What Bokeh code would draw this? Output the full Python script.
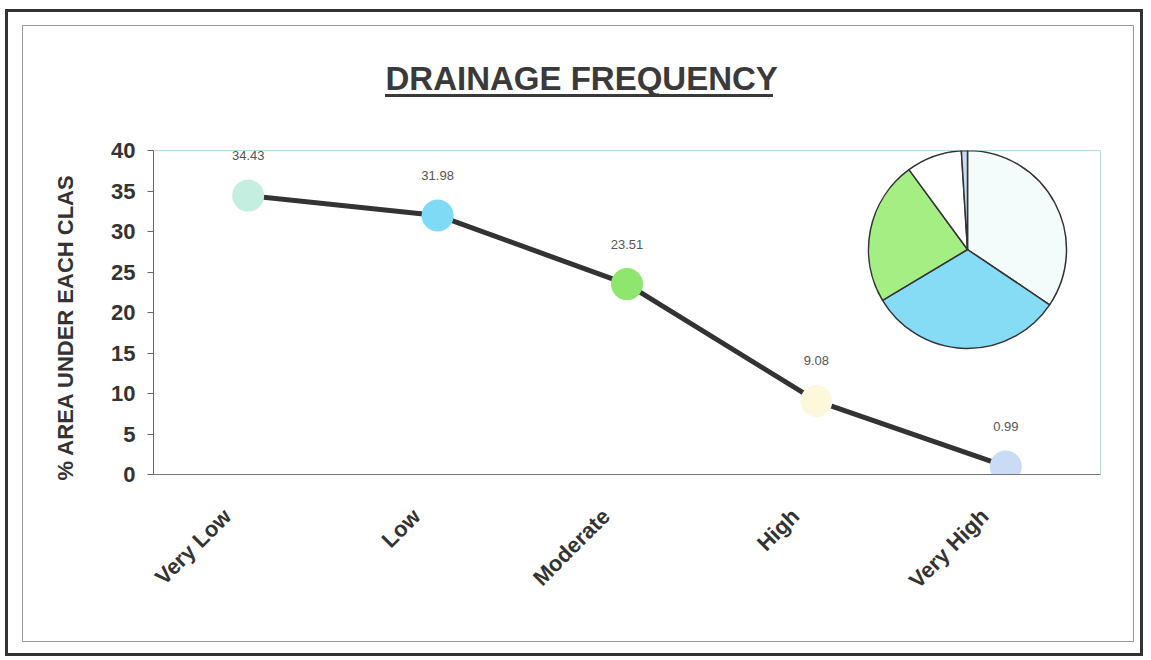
import math
from bokeh.plotting import figure
from bokeh.models import Range1d, ColumnDataSource, LabelSet, FixedTicker, Title
from bokeh.embed import file_html
from bokeh.resources import INLINE
from bokeh.core.properties import value

# ---- data ----
categories = ["Very Low", "Low", "Moderate", "High", "Very High"]
values = [34.43, 31.98, 23.51, 9.08, 0.99]
value_labels = ["34.43", "31.98", "23.51", "9.08", "0.99"]
marker_colors = ["#c4eedf", "#7fdaf6", "#8fe66e", "#fdf8dc", "#c9dbf5"]
pie_colors = ["#f3fbfb", "#86dcf4", "#a4ee84", "#ffffff", "#c9dbf5"]
y_ticks = [0, 5, 10, 15, 20, 25, 30, 35, 40]
title_text = "DRAINAGE FREQUENCY"
y_title = "% AREA UNDER EACH CLAS"

# ---- layout constants ----
W, H = 1151, 660
FL, FR, FT, FB = 153, 1100, 150, 474
FONT = "Liberation Sans"
n = len(categories)
step = (FR - FL) / n
LABEL_SHIFT = 21  # px: rotated labels end just left of their category

xpos = [i + 0.5 for i in range(n)]

p = figure(width=W, height=H, x_range=Range1d(0, n), y_range=Range1d(0, 40),
           output_backend="svg", toolbar_location=None,
           min_border_left=FL, min_border_right=W - FR,
           min_border_top=FT, min_border_bottom=H - FB,
           background_fill_color="white", border_fill_color=None)
p.extra_x_ranges = {"px": Range1d(FL, FR)}
p.extra_y_ranges = {"py": Range1d(H - FB, H - FT)}

p.xgrid.visible = False
p.ygrid.visible = False
p.outline_line_color = "#b9dede"
p.outline_line_width = 1

# y axis
p.yaxis.ticker = FixedTicker(ticks=y_ticks)
p.yaxis.major_label_text_font = FONT
p.yaxis.major_label_text_font_style = "bold"
p.yaxis.major_label_text_font_size = "22px"
p.yaxis.major_label_text_color = "#333333"
p.yaxis.major_tick_out = 6
p.yaxis.major_tick_in = 0
p.yaxis.minor_tick_line_color = None
p.yaxis.major_label_standoff = 12
p.yaxis.axis_line_color = "#666666"
p.yaxis.major_tick_line_color = "#666666"

# x axis: rotated category labels
label_ticks, overrides = [], {}
for x, cat in zip(xpos, categories):
    t = round(x - LABEL_SHIFT / step, 4)
    label_ticks.append(t)
    overrides[t] = cat
p.xaxis.ticker = FixedTicker(ticks=label_ticks)
p.xaxis.major_label_overrides = overrides
p.xaxis.major_label_orientation = math.pi / 4
p.xaxis.major_label_text_font = FONT
p.xaxis.major_label_text_font_style = "bold"
p.xaxis.major_label_text_font_size = "22px"
p.xaxis.major_label_text_color = "#333333"
p.xaxis.major_tick_line_color = None
p.xaxis.minor_tick_line_color = None
p.xaxis.axis_line_color = "#777777"
p.xaxis.major_label_standoff = 32

src = ColumnDataSource(dict(x=xpos, val=values, lab=value_labels, color=marker_colors))
p.line(x="x", y="val", source=src, line_color="#333333", line_width=5)
p.scatter(x="x", y="val", source=src, size=32, fill_color="color", line_color=None)
p.add_layout(LabelSet(x="x", y="val", text="lab", source=src, y_offset=40,
                      text_align="center", text_baseline="middle",
                      text_font=value(FONT), text_font_size="13px", text_color="#555555"))

# pie chart inset (angles from the data, clockwise from 12 o'clock)
total = sum(values)
starts, ends = [], []
acc = 0.0
for v in values:
    starts.append(math.pi / 2 - 2 * math.pi * acc / total)
    acc += v
    ends.append(math.pi / 2 - 2 * math.pi * acc / total)
pie_src = ColumnDataSource(dict(s=starts, e=ends, color=pie_colors))
p.wedge(x=967, y=H - 249, radius=99, radius_units="screen", start_angle="s", end_angle="e",
        direction="clock", fill_color="color", line_color="#333333", line_width=1.5,
        source=pie_src, x_range_name="px", y_range_name="py")

# main title
p.title = Title(text=title_text, align="left", offset=232, standoff=108,
                text_font=FONT, text_font_style="bold",
                text_font_size="33px", text_color="#3a3a3a")

# y axis title
p.add_layout(Title(text=y_title, align="left", offset=-6, standoff=62,
                   text_font=FONT, text_font_style="bold", text_font_size="22px",
                   text_color="#333333"), "left")

# page frames and title underline drawn as CSS background rectangles
def rect(x, y, w, h, c):
    return f"linear-gradient({c},{c}) {x}px {y}px / {w}px {h}px no-repeat"

layers = [
    rect(5, 9, 1138, 3, "#333333"), rect(5, 653, 1138, 3, "#333333"),
    rect(5, 9, 3, 647, "#333333"), rect(1140, 9, 3, 647, "#333333"),
    rect(22, 25, 1112, 1, "#9a9a9a"), rect(22, 641, 1112, 1, "#9a9a9a"),
    rect(22, 25, 1, 617, "#9a9a9a"), rect(1133, 25, 1, 617, "#9a9a9a"),
    rect(385, 94, 388, 3, "#3a3a3a"),
]
p.styles = {"background": ", ".join(layers) + ", #ffffff"}

open("out.html", "w").write(file_html(p, INLINE))
